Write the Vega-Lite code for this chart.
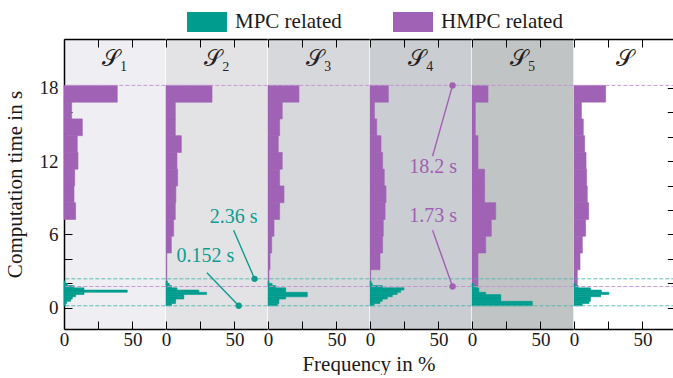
{
"$schema": "https://vega.github.io/schema/vega-lite/v6.json",
"background": "white",
"padding": {"left": 4, "top": 2, "right": 0, "bottom": 0},
"spacing": 0,
"bounds": "flush",
"title": {"text": "Frequency in %", "orient": "bottom", "anchor": "middle", "fontSize": 21, "font": "Liberation Serif, DejaVu Serif, serif", "fontWeight": "normal", "color": "#1a1a1a", "dx": 29, "offset": 5},
"config": {
  "view": {"stroke": null},
  "concat": {"spacing": 0},
  "axis": {"labelFont": "Liberation Serif, DejaVu Serif, serif", "titleFont": "Liberation Serif, DejaVu Serif, serif", "labelFontSize": 19, "titleFontSize": 21, "titleFontWeight": "normal", "labelColor": "#1a1a1a", "titleColor": "#1a1a1a", "tickColor": "#000", "domainColor": "#000", "domainWidth": 1.5, "tickWidth": 1, "grid": false, "labelFlush": false},
  "legend": {"labelFont": "Liberation Serif, DejaVu Serif, serif", "labelFontSize": 21, "labelColor": "#1a1a1a"},
  "text": {"font": "Liberation Serif, DejaVu Serif, serif"}
},
"datasets": {
"h": [
{"p":"S1","t":"HMPC related","lo":7.22,"hi":8.5925,"f":8.5},
{"p":"S1","t":"HMPC related","lo":8.5925,"hi":9.965,"f":7.3},
{"p":"S1","t":"HMPC related","lo":9.965,"hi":11.3375,"f":7.8},
{"p":"S1","t":"HMPC related","lo":11.3375,"hi":12.71,"f":10.2},
{"p":"S1","t":"HMPC related","lo":12.71,"hi":14.0825,"f":9.7},
{"p":"S1","t":"HMPC related","lo":14.0825,"hi":15.455,"f":13.4},
{"p":"S1","t":"HMPC related","lo":15.455,"hi":16.8275,"f":5.6},
{"p":"S1","t":"HMPC related","lo":16.8275,"hi":18.2,"f":38.9},
{"p":"S2","t":"HMPC related","lo":1.73,"hi":3.1025,"f":0.6},
{"p":"S2","t":"HMPC related","lo":3.1025,"hi":4.475,"f":0.6},
{"p":"S2","t":"HMPC related","lo":4.475,"hi":5.8475,"f":3.9},
{"p":"S2","t":"HMPC related","lo":5.8475,"hi":7.22,"f":5.6},
{"p":"S2","t":"HMPC related","lo":7.22,"hi":8.5925,"f":6.8},
{"p":"S2","t":"HMPC related","lo":8.5925,"hi":9.965,"f":7.2},
{"p":"S2","t":"HMPC related","lo":9.965,"hi":11.3375,"f":8.5},
{"p":"S2","t":"HMPC related","lo":11.3375,"hi":12.71,"f":8},
{"p":"S2","t":"HMPC related","lo":12.71,"hi":14.0825,"f":11.2},
{"p":"S2","t":"HMPC related","lo":14.0825,"hi":15.455,"f":6.8},
{"p":"S2","t":"HMPC related","lo":15.455,"hi":16.8275,"f":6.8},
{"p":"S2","t":"HMPC related","lo":16.8275,"hi":18.2,"f":33.6},
{"p":"S3","t":"HMPC related","lo":1.73,"hi":3.1025,"f":0.7},
{"p":"S3","t":"HMPC related","lo":3.1025,"hi":4.475,"f":1.5},
{"p":"S3","t":"HMPC related","lo":4.475,"hi":5.8475,"f":2.7},
{"p":"S3","t":"HMPC related","lo":5.8475,"hi":7.22,"f":4.4},
{"p":"S3","t":"HMPC related","lo":7.22,"hi":8.5925,"f":8.5},
{"p":"S3","t":"HMPC related","lo":8.5925,"hi":9.965,"f":11.7},
{"p":"S3","t":"HMPC related","lo":9.965,"hi":11.3375,"f":8.5},
{"p":"S3","t":"HMPC related","lo":11.3375,"hi":12.71,"f":10.4},
{"p":"S3","t":"HMPC related","lo":12.71,"hi":14.0825,"f":7.5},
{"p":"S3","t":"HMPC related","lo":14.0825,"hi":15.455,"f":8.5},
{"p":"S3","t":"HMPC related","lo":15.455,"hi":16.8275,"f":10.4},
{"p":"S3","t":"HMPC related","lo":16.8275,"hi":18.2,"f":22.6},
{"p":"S4","t":"HMPC related","lo":1.73,"hi":3.1025,"f":0.5},
{"p":"S4","t":"HMPC related","lo":3.1025,"hi":4.475,"f":7.3},
{"p":"S4","t":"HMPC related","lo":4.475,"hi":5.8475,"f":9.2},
{"p":"S4","t":"HMPC related","lo":5.8475,"hi":7.22,"f":9.7},
{"p":"S4","t":"HMPC related","lo":7.22,"hi":8.5925,"f":11},
{"p":"S4","t":"HMPC related","lo":8.5925,"hi":9.965,"f":11.7},
{"p":"S4","t":"HMPC related","lo":9.965,"hi":11.3375,"f":10.4},
{"p":"S4","t":"HMPC related","lo":11.3375,"hi":12.71,"f":9.2},
{"p":"S4","t":"HMPC related","lo":12.71,"hi":14.0825,"f":8},
{"p":"S4","t":"HMPC related","lo":14.0825,"hi":15.455,"f":4.9},
{"p":"S4","t":"HMPC related","lo":15.455,"hi":16.8275,"f":3.2},
{"p":"S4","t":"HMPC related","lo":16.8275,"hi":18.2,"f":13.4},
{"p":"S5","t":"HMPC related","lo":1.73,"hi":3.1025,"f":4.4},
{"p":"S5","t":"HMPC related","lo":3.1025,"hi":4.475,"f":4.4},
{"p":"S5","t":"HMPC related","lo":4.475,"hi":5.8475,"f":10},
{"p":"S5","t":"HMPC related","lo":5.8475,"hi":7.22,"f":14.1},
{"p":"S5","t":"HMPC related","lo":7.22,"hi":8.5925,"f":17.3},
{"p":"S5","t":"HMPC related","lo":8.5925,"hi":9.965,"f":9.2},
{"p":"S5","t":"HMPC related","lo":9.965,"hi":11.3375,"f":9.2},
{"p":"S5","t":"HMPC related","lo":11.3375,"hi":12.71,"f":4.4},
{"p":"S5","t":"HMPC related","lo":12.71,"hi":14.0825,"f":4.4},
{"p":"S5","t":"HMPC related","lo":14.0825,"hi":15.455,"f":2.4},
{"p":"S5","t":"HMPC related","lo":15.455,"hi":16.8275,"f":2.4},
{"p":"S5","t":"HMPC related","lo":16.8275,"hi":18.2,"f":11.7},
{"p":"S","t":"HMPC related","lo":1.73,"hi":3.1025,"f":2.4},
{"p":"S","t":"HMPC related","lo":3.1025,"hi":4.475,"f":4.4},
{"p":"S","t":"HMPC related","lo":4.475,"hi":5.8475,"f":6.1},
{"p":"S","t":"HMPC related","lo":5.8475,"hi":7.22,"f":8.5},
{"p":"S","t":"HMPC related","lo":7.22,"hi":8.5925,"f":10.7},
{"p":"S","t":"HMPC related","lo":8.5925,"hi":9.965,"f":9.7},
{"p":"S","t":"HMPC related","lo":9.965,"hi":11.3375,"f":9.2},
{"p":"S","t":"HMPC related","lo":11.3375,"hi":12.71,"f":8.8},
{"p":"S","t":"HMPC related","lo":12.71,"hi":14.0825,"f":7.8},
{"p":"S","t":"HMPC related","lo":14.0825,"hi":15.455,"f":6.8},
{"p":"S","t":"HMPC related","lo":15.455,"hi":16.8275,"f":5.4},
{"p":"S","t":"HMPC related","lo":16.8275,"hi":18.2,"f":23.1},
{"p":"S1","t":"MPC related","lo":0.152,"hi":0.336,"f":1},
{"p":"S1","t":"MPC related","lo":0.336,"hi":0.52,"f":2},
{"p":"S1","t":"MPC related","lo":0.52,"hi":0.704,"f":4.9},
{"p":"S1","t":"MPC related","lo":0.704,"hi":0.888,"f":6.1},
{"p":"S1","t":"MPC related","lo":0.888,"hi":1.072,"f":8.5},
{"p":"S1","t":"MPC related","lo":1.072,"hi":1.256,"f":14.6},
{"p":"S1","t":"MPC related","lo":1.256,"hi":1.44,"f":46.2},
{"p":"S1","t":"MPC related","lo":1.44,"hi":1.624,"f":14.6},
{"p":"S1","t":"MPC related","lo":1.624,"hi":1.808,"f":7.3},
{"p":"S1","t":"MPC related","lo":1.808,"hi":1.992,"f":2.4},
{"p":"S1","t":"MPC related","lo":1.992,"hi":2.176,"f":0.8},
{"p":"S2","t":"MPC related","lo":0.152,"hi":0.336,"f":4},
{"p":"S2","t":"MPC related","lo":0.336,"hi":0.52,"f":7},
{"p":"S2","t":"MPC related","lo":0.52,"hi":0.704,"f":7},
{"p":"S2","t":"MPC related","lo":0.704,"hi":0.888,"f":13},
{"p":"S2","t":"MPC related","lo":0.888,"hi":1.072,"f":13},
{"p":"S2","t":"MPC related","lo":1.072,"hi":1.256,"f":29.7},
{"p":"S2","t":"MPC related","lo":1.256,"hi":1.44,"f":24},
{"p":"S2","t":"MPC related","lo":1.44,"hi":1.624,"f":8},
{"p":"S2","t":"MPC related","lo":1.624,"hi":1.808,"f":4},
{"p":"S2","t":"MPC related","lo":1.808,"hi":1.992,"f":2.4},
{"p":"S2","t":"MPC related","lo":1.992,"hi":2.176,"f":1},
{"p":"S3","t":"MPC related","lo":0.152,"hi":0.336,"f":7},
{"p":"S3","t":"MPC related","lo":0.336,"hi":0.52,"f":8},
{"p":"S3","t":"MPC related","lo":0.52,"hi":0.704,"f":8},
{"p":"S3","t":"MPC related","lo":0.704,"hi":0.888,"f":12.9},
{"p":"S3","t":"MPC related","lo":0.888,"hi":1.072,"f":28.7},
{"p":"S3","t":"MPC related","lo":1.072,"hi":1.256,"f":28.7},
{"p":"S3","t":"MPC related","lo":1.256,"hi":1.44,"f":12.9},
{"p":"S3","t":"MPC related","lo":1.44,"hi":1.624,"f":12.9},
{"p":"S3","t":"MPC related","lo":1.624,"hi":1.808,"f":5.6},
{"p":"S3","t":"MPC related","lo":1.808,"hi":1.992,"f":3},
{"p":"S3","t":"MPC related","lo":1.992,"hi":2.176,"f":0.5},
{"p":"S4","t":"MPC related","lo":0.152,"hi":0.336,"f":3},
{"p":"S4","t":"MPC related","lo":0.336,"hi":0.52,"f":7.3},
{"p":"S4","t":"MPC related","lo":0.52,"hi":0.704,"f":9},
{"p":"S4","t":"MPC related","lo":0.704,"hi":0.888,"f":12.6},
{"p":"S4","t":"MPC related","lo":0.888,"hi":1.072,"f":16.3},
{"p":"S4","t":"MPC related","lo":1.072,"hi":1.256,"f":19.9},
{"p":"S4","t":"MPC related","lo":1.256,"hi":1.44,"f":22.4},
{"p":"S4","t":"MPC related","lo":1.44,"hi":1.624,"f":24.8},
{"p":"S4","t":"MPC related","lo":1.624,"hi":1.808,"f":9},
{"p":"S4","t":"MPC related","lo":1.808,"hi":1.992,"f":1.7},
{"p":"S4","t":"MPC related","lo":1.992,"hi":2.176,"f":0.8},
{"p":"S5","t":"MPC related","lo":0.152,"hi":0.336,"f":44},
{"p":"S5","t":"MPC related","lo":0.336,"hi":0.52,"f":44},
{"p":"S5","t":"MPC related","lo":0.52,"hi":0.704,"f":21},
{"p":"S5","t":"MPC related","lo":0.704,"hi":0.888,"f":21},
{"p":"S5","t":"MPC related","lo":0.888,"hi":1.072,"f":21},
{"p":"S5","t":"MPC related","lo":1.072,"hi":1.256,"f":10},
{"p":"S5","t":"MPC related","lo":1.256,"hi":1.44,"f":5},
{"p":"S5","t":"MPC related","lo":1.44,"hi":1.624,"f":5},
{"p":"S5","t":"MPC related","lo":1.624,"hi":1.808,"f":3},
{"p":"S5","t":"MPC related","lo":1.808,"hi":1.992,"f":1},
{"p":"S","t":"MPC related","lo":0.152,"hi":0.336,"f":6},
{"p":"S","t":"MPC related","lo":0.336,"hi":0.52,"f":11},
{"p":"S","t":"MPC related","lo":0.52,"hi":0.704,"f":12},
{"p":"S","t":"MPC related","lo":0.704,"hi":0.888,"f":12},
{"p":"S","t":"MPC related","lo":0.888,"hi":1.072,"f":19.5},
{"p":"S","t":"MPC related","lo":1.072,"hi":1.256,"f":25.5},
{"p":"S","t":"MPC related","lo":1.256,"hi":1.44,"f":20},
{"p":"S","t":"MPC related","lo":1.44,"hi":1.624,"f":12},
{"p":"S","t":"MPC related","lo":1.624,"hi":1.808,"f":3},
{"p":"S","t":"MPC related","lo":1.808,"hi":1.992,"f":1}
],
"ref": [
{"t":"HMPC related","v":18.2},
{"t":"HMPC related","v":1.73},
{"t":"MPC related","v":2.36},
{"t":"MPC related","v":0.152}
],
"ann": [
{"p":"S2","label":"2.36 s","v":2.36,"px":64.7,"lx":49.4,"ly":6.33,"tx":49.4,"ty":7.46},
{"p":"S2","label":"0.152 s","v":0.152,"px":53.1,"lx":29.9,"ly":2.86,"tx":28.8,"ty":4.19},
{"p":"S4","label":"18.2 s","v":18.2,"px":60.3,"lx":45.7,"ly":12.41,"tx":46.1,"ty":11.5},
{"p":"S4","label":"1.73 s","v":1.73,"px":60.3,"lx":45.7,"ly":6.33,"tx":46.1,"ty":7.53}
],
"lbl": [
{"p":"S1","label":"𝒮₁"},
{"p":"S2","label":"𝒮₂"},
{"p":"S3","label":"𝒮₃"},
{"p":"S4","label":"𝒮₄"},
{"p":"S5","label":"𝒮₅"},
{"p":"S","label":"𝒮"}
]
},
"resolve": {"scale": {"color": "shared", "stroke": "shared"}, "legend": {"color": "shared"}},
"hconcat": [
{
 "width": 101.33, "height": 290,
 "view": {"fill": "#efeff3", "stroke": null},
 "resolve": {"axis": {"x": "independent", "y": "independent"}},
 "layer": [
  {"data": {"name": "h"}, "transform": [{"filter": "datum.p === 'S1'"}], "mark": {"type": "rect", "strokeWidth": 0.6},
   "encoding": {
    "x": {"field": "f", "type": "quantitative", "scale": {"domain": [0, 74], "nice": false, "zero": false}, "axis": {"orient": "bottom", "values": [0, 25, 50], "labelExpr": "datum.value == 25 ? '' : datum.label", "tickSize": -8, "labelPadding": 9, "title": null}},
    "x2": {"datum": 0},
    "y": {"field": "lo", "type": "quantitative", "scale": {"domain": [-1.75, 22], "nice": false, "zero": false}, "axis": {"orient": "left", "values": [0, 2, 4, 6, 8, 10, 12, 14, 16, 18], "labelExpr": "datum.value % 6 == 0 ? datum.label : ''", "tickSize": -8, "labelPadding": 14, "title": "Computation time in s", "titlePadding": 14}},
    "y2": {"field": "hi"},
    "stroke": {"condition": {"test": "datum.t === 'MPC related'", "value": "#009d8f"}, "value": "#a062b4"},
    "color": {"field": "t", "type": "nominal", "scale": {"domain": ["MPC related", "HMPC related"], "range": ["#009d8f", "#a062b4"]},
      "legend": {"orient": "none", "legendX": 123, "legendY": -37, "direction": "horizontal", "title": null, "symbolType": "M-1,-0.5H1V0.5H-1Z", "symbolSize": 1600, "symbolStrokeWidth": 0, "labelOffset": 8, "columnPadding": 51, "labelFontSize": 21}}
   }},
  {"data": {"name": "ref"}, "mark": {"type": "rule", "strokeDash": [4, 2], "strokeWidth": 0.9},
   "encoding": {"y": {"field": "v", "type": "quantitative", "axis": null}, "stroke": {"field": "t", "type": "nominal", "scale": {"domain": ["MPC related", "HMPC related"], "range": ["#4fb5aa", "#c28fd2"]}, "legend": null}}},
  {"data": {"name": "lbl"}, "transform": [{"filter": "datum.p === 'S1'"}], "mark": {"type": "text", "fontSize": 23, "color": "#222"},
   "encoding": {"x": {"datum": 37, "type": "quantitative", "axis": {"orient": "top", "values": [0, 25, 50], "labels": false, "tickSize": -8, "title": null}}, "y": {"datum": 20.4, "type": "quantitative", "axis": null}, "text": {"field": "label"}}}
 ]
},
{
 "width": 101.33, "height": 290,
 "view": {"fill": "#e3e3e6", "stroke": null},
 "resolve": {"axis": {"x": "independent", "y": "independent"}},
 "layer": [
  {"data": {"name": "h"}, "transform": [{"filter": "datum.p === 'S2'"}], "mark": {"type": "rect", "strokeWidth": 0.6},
   "encoding": {
    "x": {"field": "f", "type": "quantitative", "scale": {"domain": [0, 74], "nice": false, "zero": false}, "axis": {"orient": "bottom", "values": [0, 25, 50], "labelExpr": "datum.value == 25 ? '' : datum.label", "tickSize": -8, "labelPadding": 9, "title": null}},
    "x2": {"datum": 0},
    "y": {"field": "lo", "type": "quantitative", "scale": {"domain": [-1.75, 22], "nice": false, "zero": false}, "axis": null},
    "y2": {"field": "hi"},
    "stroke": {"condition": {"test": "datum.t === 'MPC related'", "value": "#009d8f"}, "value": "#a062b4"},
    "color": {"field": "t", "type": "nominal", "scale": {"domain": ["MPC related", "HMPC related"], "range": ["#009d8f", "#a062b4"]}, "legend": null}
   }},
  {"data": {"name": "ref"}, "mark": {"type": "rule", "strokeDash": [4, 2], "strokeWidth": 0.9},
   "encoding": {"y": {"field": "v", "type": "quantitative", "axis": null}, "stroke": {"field": "t", "type": "nominal", "scale": {"domain": ["MPC related", "HMPC related"], "range": ["#4fb5aa", "#c28fd2"]}, "legend": null}}},
  {"data": {"name": "lbl"}, "transform": [{"filter": "datum.p === 'S2'"}], "mark": {"type": "text", "fontSize": 23, "color": "#222"},
   "encoding": {"x": {"datum": 37, "type": "quantitative", "axis": {"orient": "top", "values": [0, 25, 50], "labels": false, "tickSize": -8, "title": null}}, "y": {"datum": 20.4, "type": "quantitative", "axis": null}, "text": {"field": "label"}}},
  {"data": {"name": "ann"}, "transform": [{"filter": "datum.p === 'S2'"}], "mark": {"type": "rule", "color": "#0e9c8e", "strokeWidth": 1.4},
   "encoding": {"x": {"field": "lx", "type": "quantitative", "axis": null}, "y": {"field": "ly", "type": "quantitative", "axis": null}, "x2": {"field": "px"}, "y2": {"field": "v"}}},
  {"data": {"name": "ann"}, "transform": [{"filter": "datum.p === 'S2'"}], "mark": {"type": "point", "filled": true, "size": 40, "opacity": 1, "color": "#0e9c8e"},
   "encoding": {"x": {"field": "px", "type": "quantitative", "axis": null}, "y": {"field": "v", "type": "quantitative", "axis": null}}},
  {"data": {"name": "ann"}, "transform": [{"filter": "datum.p === 'S2'"}], "mark": {"type": "text", "fontSize": 20, "color": "#0e9c8e"},
   "encoding": {"x": {"field": "tx", "type": "quantitative", "axis": null}, "y": {"field": "ty", "type": "quantitative", "axis": null}, "text": {"field": "label"}}}
 ]
},
{
 "width": 101.33, "height": 290,
 "view": {"fill": "#d7d8dc", "stroke": null},
 "resolve": {"axis": {"x": "independent", "y": "independent"}},
 "layer": [
  {"data": {"name": "h"}, "transform": [{"filter": "datum.p === 'S3'"}], "mark": {"type": "rect", "strokeWidth": 0.6},
   "encoding": {
    "x": {"field": "f", "type": "quantitative", "scale": {"domain": [0, 74], "nice": false, "zero": false}, "axis": {"orient": "bottom", "values": [0, 25, 50], "labelExpr": "datum.value == 25 ? '' : datum.label", "tickSize": -8, "labelPadding": 9, "title": null}},
    "x2": {"datum": 0},
    "y": {"field": "lo", "type": "quantitative", "scale": {"domain": [-1.75, 22], "nice": false, "zero": false}, "axis": null},
    "y2": {"field": "hi"},
    "stroke": {"condition": {"test": "datum.t === 'MPC related'", "value": "#009d8f"}, "value": "#a062b4"},
    "color": {"field": "t", "type": "nominal", "scale": {"domain": ["MPC related", "HMPC related"], "range": ["#009d8f", "#a062b4"]}, "legend": null}
   }},
  {"data": {"name": "ref"}, "mark": {"type": "rule", "strokeDash": [4, 2], "strokeWidth": 0.9},
   "encoding": {"y": {"field": "v", "type": "quantitative", "axis": null}, "stroke": {"field": "t", "type": "nominal", "scale": {"domain": ["MPC related", "HMPC related"], "range": ["#4fb5aa", "#c28fd2"]}, "legend": null}}},
  {"data": {"name": "lbl"}, "transform": [{"filter": "datum.p === 'S3'"}], "mark": {"type": "text", "fontSize": 23, "color": "#222"},
   "encoding": {"x": {"datum": 37, "type": "quantitative", "axis": {"orient": "top", "values": [0, 25, 50], "labels": false, "tickSize": -8, "title": null}}, "y": {"datum": 20.4, "type": "quantitative", "axis": null}, "text": {"field": "label"}}}
 ]
},
{
 "width": 101.33, "height": 290,
 "view": {"fill": "#cacdd2", "stroke": null},
 "resolve": {"axis": {"x": "independent", "y": "independent"}},
 "layer": [
  {"data": {"name": "h"}, "transform": [{"filter": "datum.p === 'S4'"}], "mark": {"type": "rect", "strokeWidth": 0.6},
   "encoding": {
    "x": {"field": "f", "type": "quantitative", "scale": {"domain": [0, 74], "nice": false, "zero": false}, "axis": {"orient": "bottom", "values": [0, 25, 50], "labelExpr": "datum.value == 25 ? '' : datum.label", "tickSize": -8, "labelPadding": 9, "title": null}},
    "x2": {"datum": 0},
    "y": {"field": "lo", "type": "quantitative", "scale": {"domain": [-1.75, 22], "nice": false, "zero": false}, "axis": null},
    "y2": {"field": "hi"},
    "stroke": {"condition": {"test": "datum.t === 'MPC related'", "value": "#009d8f"}, "value": "#a062b4"},
    "color": {"field": "t", "type": "nominal", "scale": {"domain": ["MPC related", "HMPC related"], "range": ["#009d8f", "#a062b4"]}, "legend": null}
   }},
  {"data": {"name": "ref"}, "mark": {"type": "rule", "strokeDash": [4, 2], "strokeWidth": 0.9},
   "encoding": {"y": {"field": "v", "type": "quantitative", "axis": null}, "stroke": {"field": "t", "type": "nominal", "scale": {"domain": ["MPC related", "HMPC related"], "range": ["#4fb5aa", "#c28fd2"]}, "legend": null}}},
  {"data": {"name": "lbl"}, "transform": [{"filter": "datum.p === 'S4'"}], "mark": {"type": "text", "fontSize": 23, "color": "#222"},
   "encoding": {"x": {"datum": 37, "type": "quantitative", "axis": {"orient": "top", "values": [0, 25, 50], "labels": false, "tickSize": -8, "title": null}}, "y": {"datum": 20.4, "type": "quantitative", "axis": null}, "text": {"field": "label"}}},
  {"data": {"name": "ann"}, "transform": [{"filter": "datum.p === 'S4'"}], "mark": {"type": "rule", "color": "#a25fb3", "strokeWidth": 1.4},
   "encoding": {"x": {"field": "lx", "type": "quantitative", "axis": null}, "y": {"field": "ly", "type": "quantitative", "axis": null}, "x2": {"field": "px"}, "y2": {"field": "v"}}},
  {"data": {"name": "ann"}, "transform": [{"filter": "datum.p === 'S4'"}], "mark": {"type": "point", "filled": true, "size": 40, "opacity": 1, "color": "#a25fb3"},
   "encoding": {"x": {"field": "px", "type": "quantitative", "axis": null}, "y": {"field": "v", "type": "quantitative", "axis": null}}},
  {"data": {"name": "ann"}, "transform": [{"filter": "datum.p === 'S4'"}], "mark": {"type": "text", "fontSize": 20, "color": "#a25fb3"},
   "encoding": {"x": {"field": "tx", "type": "quantitative", "axis": null}, "y": {"field": "ty", "type": "quantitative", "axis": null}, "text": {"field": "label"}}}
 ]
},
{
 "width": 101.33, "height": 290,
 "view": {"fill": "#c0c4c5", "stroke": null},
 "resolve": {"axis": {"x": "independent", "y": "independent"}},
 "layer": [
  {"data": {"name": "h"}, "transform": [{"filter": "datum.p === 'S5'"}], "mark": {"type": "rect", "strokeWidth": 0.6},
   "encoding": {
    "x": {"field": "f", "type": "quantitative", "scale": {"domain": [0, 74], "nice": false, "zero": false}, "axis": {"orient": "bottom", "values": [0, 25, 50], "labelExpr": "datum.value == 25 ? '' : datum.label", "tickSize": -8, "labelPadding": 9, "title": null}},
    "x2": {"datum": 0},
    "y": {"field": "lo", "type": "quantitative", "scale": {"domain": [-1.75, 22], "nice": false, "zero": false}, "axis": null},
    "y2": {"field": "hi"},
    "stroke": {"condition": {"test": "datum.t === 'MPC related'", "value": "#009d8f"}, "value": "#a062b4"},
    "color": {"field": "t", "type": "nominal", "scale": {"domain": ["MPC related", "HMPC related"], "range": ["#009d8f", "#a062b4"]}, "legend": null}
   }},
  {"data": {"name": "ref"}, "mark": {"type": "rule", "strokeDash": [4, 2], "strokeWidth": 0.9},
   "encoding": {"y": {"field": "v", "type": "quantitative", "axis": null}, "stroke": {"field": "t", "type": "nominal", "scale": {"domain": ["MPC related", "HMPC related"], "range": ["#4fb5aa", "#c28fd2"]}, "legend": null}}},
  {"data": {"name": "lbl"}, "transform": [{"filter": "datum.p === 'S5'"}], "mark": {"type": "text", "fontSize": 23, "color": "#222"},
   "encoding": {"x": {"datum": 37, "type": "quantitative", "axis": {"orient": "top", "values": [0, 25, 50], "labels": false, "tickSize": -8, "title": null}}, "y": {"datum": 20.4, "type": "quantitative", "axis": null}, "text": {"field": "label"}}}
 ]
},
{
 "width": 101.33, "height": 290,
 "view": {"fill": "#ffffff", "stroke": null},
 "resolve": {"axis": {"x": "independent", "y": "independent"}},
 "layer": [
  {"data": {"name": "h"}, "transform": [{"filter": "datum.p === 'S'"}], "mark": {"type": "rect", "strokeWidth": 0.6},
   "encoding": {
    "x": {"field": "f", "type": "quantitative", "scale": {"domain": [0, 74], "nice": false, "zero": false}, "axis": {"orient": "bottom", "values": [0, 25, 50], "labelExpr": "datum.value == 25 ? '' : datum.label", "tickSize": -8, "labelPadding": 9, "title": null}},
    "x2": {"datum": 0},
    "y": {"field": "lo", "type": "quantitative", "scale": {"domain": [-1.75, 22], "nice": false, "zero": false}, "axis": null},
    "y2": {"field": "hi"},
    "stroke": {"condition": {"test": "datum.t === 'MPC related'", "value": "#009d8f"}, "value": "#a062b4"},
    "color": {"field": "t", "type": "nominal", "scale": {"domain": ["MPC related", "HMPC related"], "range": ["#009d8f", "#a062b4"]}, "legend": null}
   }},
  {"data": {"name": "ref"}, "mark": {"type": "rule", "strokeDash": [4, 2], "strokeWidth": 0.9},
   "encoding": {"y": {"field": "v", "type": "quantitative", "axis": null}, "stroke": {"field": "t", "type": "nominal", "scale": {"domain": ["MPC related", "HMPC related"], "range": ["#4fb5aa", "#c28fd2"]}, "legend": null}}},
  {"data": {"name": "lbl"}, "transform": [{"filter": "datum.p === 'S'"}], "mark": {"type": "text", "fontSize": 23, "color": "#222"},
   "encoding": {"x": {"datum": 37, "type": "quantitative", "axis": {"orient": "top", "values": [0, 25, 50], "labels": false, "tickSize": -8, "title": null}}, "y": {"datum": 20.4, "type": "quantitative", "axis": {"orient": "right", "values": [0, 2, 4, 6, 8, 10, 12, 14, 16, 18], "labels": false, "tickSize": -8, "title": null}}, "text": {"field": "label"}}}
 ]
}
]
}
